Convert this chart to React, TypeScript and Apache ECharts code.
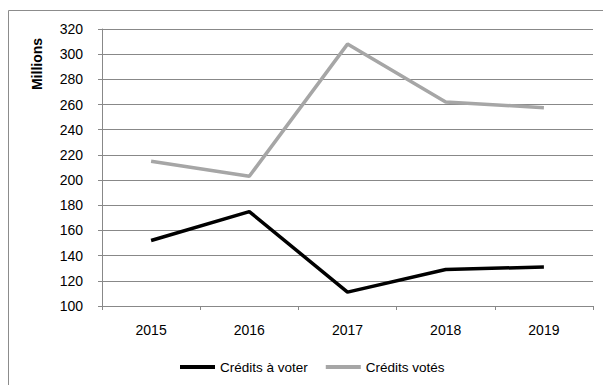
import React, { useEffect, useRef } from "react";
import * as echarts from "echarts";

const categories = ["2015", "2016", "2017", "2018", "2019"];
const creditsAVoter = [152, 175, 111, 129, 131];
const creditsVotes = [215, 203, 308, 262, 257.5];
const yTicks = { min: 100, max: 320, interval: 20 };

export default function App() {
  const ref = useRef<HTMLDivElement>(null);
  useEffect(() => {
    const chart = echarts.init(ref.current!, null, { renderer: "svg" });
    const font = "'Liberation Sans', Arial, sans-serif";
    chart.setOption({
      animation: false,
      backgroundColor: "#ffffff",
      textStyle: { fontFamily: font },
      grid: { left: 102, right: 10, top: 29, bottom: 79, containLabel: false },
      xAxis: {
        type: "category",
        data: categories,
        boundaryGap: true,
        axisLine: { lineStyle: { color: "#888888", width: 1 } },
        axisTick: { show: true, length: 4, inside: false, lineStyle: { color: "#888888" } },
        axisLabel: { color: "#000000", fontSize: 14, fontFamily: font, margin: 17 },
      },
      yAxis: {
        type: "value",
        min: yTicks.min,
        max: yTicks.max,
        interval: yTicks.interval,
        axisLine: { show: true, lineStyle: { color: "#888888", width: 1 } },
        axisTick: { show: true, length: 4, lineStyle: { color: "#888888" } },
        splitLine: { show: true, lineStyle: { color: "#888888", width: 1 } },
        axisLabel: { color: "#000000", fontSize: 14, fontFamily: font, margin: 19 },
      },
      legend: {
        bottom: 6,
        left: 175,
        itemWidth: 35,
        itemHeight: 4,
        itemGap: 18,
        icon: "rect",
        textStyle: { fontSize: 13.5, color: "#000", fontFamily: font },
        data: ["Crédits à voter", "Crédits votés"],
      },
      series: [
        {
          name: "Crédits à voter",
          type: "line",
          data: creditsAVoter,
          symbol: "none",
          lineStyle: { color: "#000000", width: 3.5 },
          itemStyle: { color: "#000000" },
        },
        {
          name: "Crédits votés",
          type: "line",
          data: creditsVotes,
          symbol: "none",
          lineStyle: { color: "#a6a6a6", width: 3.5 },
          itemStyle: { color: "#a6a6a6" },
        },
      ],
      graphic: [
        {
          type: "rect",
          shape: { x: 8.5, y: 10.5, width: 700, height: 500 },
          style: { fill: "none", stroke: "#8c8c8c", lineWidth: 1 },
          silent: true,
        },
        {
          type: "text",
          x: 37,
          y: 64,
          rotation: Math.PI / 2,
          style: {
            text: "Millions",
            font: `bold 14px ${font}`,
            fill: "#000",
            align: "center",
            verticalAlign: "middle",
          },
        },
      ],
    });
    return () => chart.dispose();
  }, []);
  return (
    <div
      ref={ref}
      style={{ position: "fixed", left: 0, top: 0, width: 603, height: 385 }}
    />
  );
}
